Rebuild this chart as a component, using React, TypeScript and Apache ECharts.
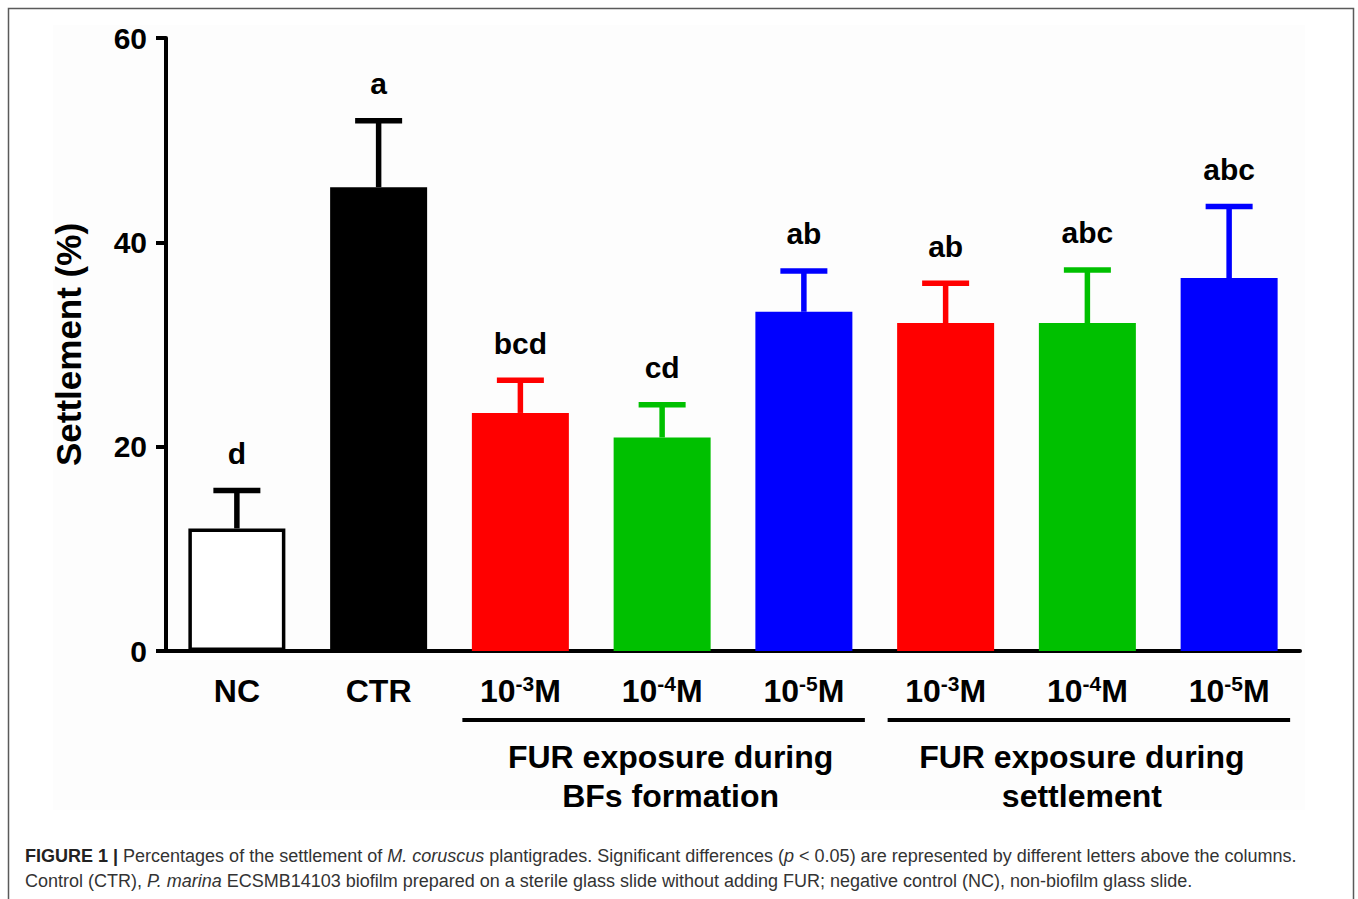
import React, { useEffect, useRef } from "react";
import * as echarts from "echarts";

const categories = ["NC", "CTR", "BF 10-3M", "BF 10-4M", "BF 10-5M", "ST 10-3M", "ST 10-4M", "ST 10-5M"];
const tickMain = ["NC", "CTR", "10", "10", "10", "10", "10", "10"];
const tickExp = ["", "", "-3", "-4", "-5", "-3", "-4", "-5"];
const tickUnit = ["", "", "M", "M", "M", "M", "M", "M"];
const means = [12.0, 45.4, 23.3, 20.9, 33.2, 32.1, 32.1, 36.5];
const errors = [3.7, 6.5, 3.2, 3.2, 4.0, 3.9, 5.2, 7.0];
const letters = ["d", "a", "bcd", "cd", "ab", "ab", "abc", "abc"];
const barColors = ["#ffffff", "#000000", "#ff0000", "#00c000", "#0000ff", "#ff0000", "#00c000", "#0000ff"];
const lineColors = ["#000000", "#000000", "#ff0000", "#00c000", "#0000ff", "#ff0000", "#00c000", "#0000ff"];
const groupLabels = ["FUR exposure during\nBFs formation", "FUR exposure during\nsettlement"];
const groupRanges = [[2, 4], [5, 7]];
const groupTextShift = [7, -7];
const yTicks = { min: 0, max: 60, interval: 20 };

const FONT = "'Liberation Sans', Arial, Helvetica, sans-serif";

export default function App() {
  const ref = useRef<HTMLDivElement>(null);
  useEffect(() => {
    if (!ref.current) return;
    const chart = echarts.init(ref.current, null, { renderer: "svg" });
    const option: any = {
      animation: false,
      backgroundColor: "#ffffff",
      grid: { left: 166, right: 58, top: 38, bottom: 248, containLabel: false },
      xAxis: {
        type: "category",
        data: categories,
        axisLine: { lineStyle: { color: "#000", width: 4 } },
        axisTick: { alignWithLabel: true, length: 10, lineStyle: { color: "#000", width: 4 } },
        axisLabel: {
          margin: 22,
          interval: 0,
          formatter: (_v: string, i: number) =>
            tickExp[i] ? `{n|${tickMain[i]}}{s|${tickExp[i]}}{n|${tickUnit[i]}}` : `{n|${tickMain[i]}}`,
          rich: {
            n: { fontFamily: FONT, fontWeight: "bold", fontSize: 32, color: "#000", lineHeight: 36 },
            s: { fontFamily: FONT, fontWeight: "bold", fontSize: 21, color: "#000", lineHeight: 18, verticalAlign: "top" },
          },
        },
      },
      yAxis: {
        type: "value",
        min: yTicks.min,
        max: yTicks.max,
        interval: yTicks.interval,
        name: "Settlement (%)",
        nameLocation: "middle",
        nameGap: 80,
        nameTextStyle: { fontFamily: FONT, fontWeight: "bold", fontSize: 35, color: "#000" },
        axisLine: { show: true, lineStyle: { color: "#000", width: 4 } },
        axisTick: { show: true, length: 10, lineStyle: { color: "#000", width: 4 } },
        axisLabel: { margin: 19, fontFamily: FONT, fontWeight: "bold", fontSize: 30, color: "#000" },
        splitLine: { show: false },
      },
      series: [
        {
          type: "bar",
          barWidth: 97,
          data: means.map((m, i) => ({
            value: m,
            itemStyle: {
              color: barColors[i],
              borderColor: i === 0 ? "#000" : barColors[i],
              borderWidth: i === 0 ? 3.5 : 0,
            },
          })),
          z: 2,
        },
        {
          type: "custom",
          z: 3,
          data: means.map((m, i) => [i, m, errors[i]]),
          renderItem: (_params: any, api: any) => {
            const i = api.value(0);
            const m = api.value(1);
            const e = api.value(2);
            const base = api.coord([i, m]);
            const top = api.coord([i, m + e]);
            const c = lineColors[i];
            return {
              type: "group",
              children: [
                { type: "line", shape: { x1: base[0], y1: base[1], x2: top[0], y2: top[1] }, style: { stroke: c, lineWidth: 5.5 } },
                { type: "line", shape: { x1: top[0] - 23.5, y1: top[1], x2: top[0] + 23.5, y2: top[1] }, style: { stroke: c, lineWidth: 5.5 } },
                {
                  type: "text",
                  x: top[0],
                  y: top[1] - 37,
                  style: {
                    text: letters[i],
                    fontFamily: FONT,
                    fontWeight: "bold",
                    fontSize: 30,
                    fill: "#000",
                    align: "center",
                    verticalAlign: "middle",
                  },
                },
              ],
            };
          },
        },
      ],
    };
    chart.setOption(option);

    const px = (i: number) => chart.convertToPixel({ xAxisIndex: 0 }, categories[i]) as unknown as number;
    const graphics: any[] = [
      {
        type: "rect",
        z: -10,
        shape: { x: 53, y: 25, width: 1252, height: 785 },
        style: { fill: "#fdfdfd" },
      },
      {
        type: "rect",
        shape: { x: 8.5, y: 8.5, width: 1345, height: 1000 },
        style: { fill: "none", stroke: "#5a5a5a", lineWidth: 1.5 },
      },
    ];
    groupRanges.forEach((r, gi) => {
      const x1 = px(r[0]) - 58;
      const x2 = px(r[1]) + 61;
      graphics.push({
        type: "line",
        shape: { x1, y1: 720, x2, y2: 720 },
        style: { stroke: "#000", lineWidth: 4 },
      });
      graphics.push({
        type: "text",
        x: (x1 + x2) / 2 + groupTextShift[gi],
        y: 737,
        style: {
          text: groupLabels[gi],
          fontFamily: FONT,
          fontWeight: "bold",
          fontSize: 32,
          lineHeight: 39,
          fill: "#000",
          align: "center",
          verticalAlign: "top",
        },
      });
    });
    const capRich = {
      b: { fontFamily: FONT, fontWeight: "bold", fontSize: 18, fill: "#222" },
      r: { fontFamily: FONT, fontSize: 18, fill: "#333" },
      i: { fontFamily: FONT, fontSize: 18, fontStyle: "italic", fill: "#333" },
    };
    graphics.push({
      type: "text",
      x: 25,
      y: 856,
      style: {
        text:
          "{b|FIGURE 1 |}{r| Percentages of the settlement of }{i|M. coruscus}{r| plantigrades. Significant differences (}{i|p}{r| < 0.05) are represented by different letters above the columns.}",
        rich: capRich,
        verticalAlign: "middle",
      },
    });
    graphics.push({
      type: "text",
      x: 25,
      y: 881,
      style: {
        text:
          "{r|Control (CTR), }{i|P. marina}{r| ECSMB14103 biofilm prepared on a sterile glass slide without adding FUR; negative control (NC), non-biofilm glass slide.}",
        rich: capRich,
        verticalAlign: "middle",
      },
    });
    chart.setOption({ graphic: graphics });

    return () => chart.dispose();
  }, []);
  return (
    <div
      ref={ref}
      style={{ position: "fixed", left: 0, top: 0, width: 1358, height: 899, background: "#fff" }}
    />
  );
}
